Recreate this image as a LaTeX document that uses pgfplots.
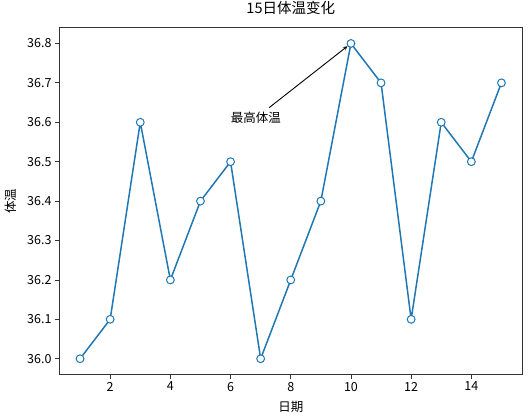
\documentclass[border=0pt]{standalone}
\usepackage{fontspec}
\setmainfont{Noto Sans CJK SC}
\usepackage{pgfplots}
\pgfplotsset{compat=1.18}
\definecolor{c0}{HTML}{1F77B4}
\definecolor{axgray}{HTML}{333333}
\begin{document}
\begin{tikzpicture}
\begin{axis}[
  scale only axis,
  width=463.5pt, height=346.8pt,
  xmin=0.3, xmax=15.7, ymin=35.96, ymax=36.84,
  xtick={2,4,6,8,10,12,14},
  ytick={36.0,36.1,36.2,36.3,36.4,36.5,36.6,36.7,36.8},
  yticklabel style={/pgf/number format/.cd, fixed, fixed zerofill, precision=1},
  /pgf/number format/assume math mode=true,
  tick align=outside, tick pos=left,
  major tick length=4pt,
  every tick/.style={axgray, line width=0.8pt},
  axis line style={axgray, line width=0.9pt},
  font=\fontsize{12.5}{14}\selectfont,
  title={15日体温变化},
  title style={at={(0.5,1)}, anchor=base, yshift=8pt, inner sep=0pt, font=\fontsize{14.5}{16}\selectfont},
  xlabel={日期}, ylabel={体温},
  xlabel style={at={(0.5,0)}, anchor=base, yshift=-37pt, inner sep=0pt},
  ylabel style={at={(0,0.5)}, anchor=south, yshift=39pt},
  clip=false,
]
\addplot[c0, line width=1.5pt, mark=*, mark size=3.9pt,
  mark options={fill=white, draw=c0, line width=1pt}] coordinates {
  (1,36.0) (2,36.1) (3,36.6) (4,36.2) (5,36.4) (6,36.5) (7,36.0) (8,36.2)
  (9,36.4) (10,36.8) (11,36.7) (12,36.1) (13,36.6) (14,36.5) (15,36.7)
};
\node[anchor=base west, inner sep=0pt, font=\fontsize{12.5}{14}\selectfont] at (axis cs:6,36.6) {最高体温};
\draw[-stealth, black, line width=0.9pt, shorten >=4.5pt] (axis cs:7.28,36.637) -- (axis cs:10,36.8);
\end{axis}
\pgfresetboundingbox
\path (current axis.south west) ++(-59pt,-40.5pt) coordinate (bl);
\path (current axis.north east) ++(9.5pt,27.7pt) coordinate (tr);
\path[use as bounding box] (bl) rectangle (tr);
\end{tikzpicture}
\end{document}
